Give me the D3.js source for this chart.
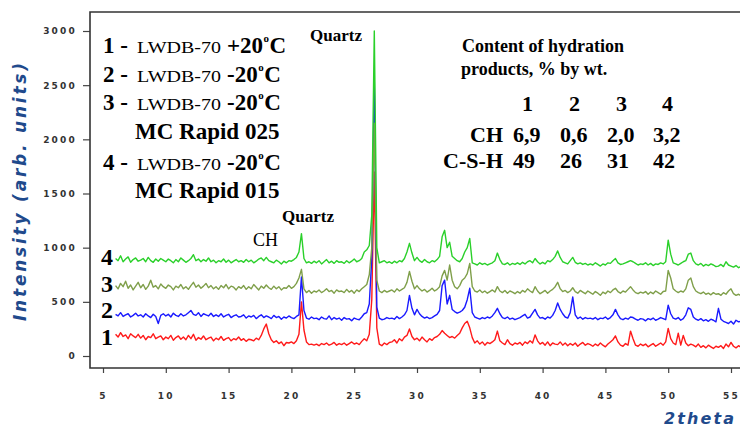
<!DOCTYPE html>
<html>
<head>
<meta charset="utf-8">
<script src="https://cdn.jsdelivr.net/npm/d3@7.9.0/dist/d3.min.js"></script>
<style>
  body { margin: 0; background: #fff; }
  svg text { font-family: "Liberation Serif", serif; }
</style>
</head>
<body>
<svg id="chart" width="740" height="427"></svg>
<script>
// sampling of the patterns: 2theta from 6 deg in 0.2 deg steps
const thetaStart = 6;
const thetaStep = 0.2;

const xTicks = [5, 10, 15, 20, 25, 30, 35, 40, 45, 50, 55];
const yTicks = [0, 500, 1000, 1500, 2000, 2500, 3000];

// 1 - LWDB-70 +20C
const pattern1 = [
  200,175,215,180,195,160,205,185,170,200,
  165,190,150,180,170,205,160,175,185,150,
  175,160,190,145,170,185,155,175,150,190,
  160,200,145,170,155,185,150,165,175,140,
  165,150,180,145,160,170,140,160,150,175,
  145,160,135,155,150,140,165,150,190,250,
  295,205,150,125,140,115,130,95,125,120,
  130,115,140,200,500,240,130,105,110,100,
  110,95,115,105,120,100,110,125,100,115,
  105,120,100,115,130,110,120,105,135,160,
  140,200,520,1700,260,110,95,120,105,125,
  130,150,120,160,140,175,190,250,180,150,
  165,140,175,150,130,160,145,170,180,200,
  235,210,190,170,180,165,190,210,260,300,
  320,260,170,120,140,110,130,100,125,115,
  130,150,230,140,120,105,150,115,100,120,
  110,125,100,130,115,140,120,195,140,110,
  125,100,130,95,120,110,105,130,100,120,
  95,115,100,120,90,110,125,100,115,105,
  90,110,95,120,100,85,110,130,150,185,
  130,100,90,115,100,230,160,100,90,110,
  95,110,85,100,115,90,105,120,100,130,
  255,160,120,105,210,100,190,120,95,110,
  100,85,110,80,95,75,100,85,70,90,
  80,95,70,110,85,125,90,75,95,80,
  85
];

// 2 - LWDB-70 -20C
const pattern2 = [
  385,370,400,365,380,390,360,375,395,370,
  380,360,390,370,355,385,365,300,375,390,
  370,385,360,395,375,365,390,370,380,400,
  420,385,375,400,365,390,380,370,395,365,
  380,365,390,360,375,385,355,370,380,360,
  365,380,350,370,360,375,345,365,380,355,
  370,360,345,375,355,365,340,360,350,370,
  355,345,365,380,730,420,350,340,360,345,
  350,335,360,345,340,370,335,355,340,350,
  330,355,340,345,325,350,340,335,360,390,
  400,480,900,2550,450,350,335,340,355,345,
  350,340,365,345,360,380,420,560,440,380,
  430,390,365,350,360,345,355,370,385,420,
  650,700,480,560,430,410,395,405,420,450,
  520,625,400,360,350,340,355,345,360,350,
  370,400,440,390,355,345,360,340,350,335,
  345,355,370,385,350,360,395,430,380,350,
  355,340,360,350,375,420,490,430,390,360,
  350,400,545,380,345,360,340,355,345,350,
  340,355,335,350,345,360,340,355,380,430,
  380,345,335,350,340,360,355,340,330,345,
  340,325,345,335,350,330,340,355,345,335,
  470,390,350,340,355,330,345,380,445,430,
  360,340,330,345,325,335,320,340,330,315,
  440,340,320,310,300,320,295,330,315,320,
  315
];

// 3 - LWDB-70 -20C MC Rapid 025
const pattern3 = [
  650,620,670,640,690,625,655,610,645,680,
  630,660,615,645,700,635,650,620,665,640,
  625,655,640,610,645,630,660,620,640,615,
  650,680,635,655,625,645,670,630,650,620,
  640,615,650,630,660,620,645,635,610,640,
  625,650,615,640,620,660,635,610,645,625,
  655,630,615,645,620,640,610,630,625,650,
  625,640,670,720,800,620,585,605,580,600,
  590,610,585,600,620,595,605,580,610,595,
  600,585,615,590,605,580,610,595,620,640,
  660,750,1000,2150,700,600,585,605,590,600,
  610,590,620,600,615,630,680,780,690,620,
  650,620,600,615,590,605,625,600,615,640,
  740,790,700,840,700,640,620,650,700,720,
  760,855,640,600,590,610,585,600,580,595,
  610,590,640,600,585,605,580,600,590,575,
  595,580,605,590,620,600,585,640,600,575,
  590,605,580,600,615,640,680,620,595,605,
  585,600,630,595,580,605,590,575,600,585,
  570,595,580,560,590,575,600,585,610,625,
  595,580,600,590,615,640,610,585,575,590,
  580,595,570,590,575,600,585,570,595,600,
  790,720,620,600,585,600,590,620,700,720,
  640,600,585,575,590,570,580,565,585,570,
  575,560,585,570,600,620,575,560,570,555,
  560
];

// 4 - LWDB-70 -20C MC Rapid 015
const pattern4 = [
  900,880,925,870,895,915,865,890,905,875,
  885,900,870,910,880,865,895,875,900,885,
  870,895,880,860,890,870,905,885,865,880,
  900,935,880,895,870,890,875,905,870,885,
  860,880,870,895,865,885,860,875,890,870,
  880,865,890,870,885,860,875,895,905,880,
  910,880,870,860,885,870,850,875,860,880,
  875,890,910,960,1130,900,860,870,855,875,
  860,880,850,870,890,860,875,855,880,865,
  870,855,880,860,875,895,870,880,900,960,
  980,1020,1300,3000,1000,860,870,880,860,870,
  855,875,860,880,870,900,960,1040,950,880,
  910,880,865,890,870,860,880,870,890,920,
  1100,1160,1000,1050,920,900,880,870,900,960,
  1000,1085,860,850,840,860,845,855,840,850,
  860,880,950,890,850,845,860,840,855,845,
  860,845,865,850,870,880,860,900,870,850,
  865,850,880,870,890,920,970,910,870,860,
  850,880,910,865,850,860,845,855,840,850,
  840,860,845,830,850,840,860,855,880,900,
  860,845,850,860,870,880,870,855,840,850,
  845,860,840,855,835,850,845,860,850,870,
  1070,940,860,850,840,855,870,880,940,950,
  880,850,840,855,830,845,835,850,840,825,
  830,845,825,870,840,830,820,835,815,825,
  820
];

const patterns = [pattern1, pattern2, pattern3, pattern4];
const patternColors = ['#ff1a1a', '#1a1aff', '#7f9f4a', '#2ad02a'];
const patternNumbers = ['1', '2', '3', '4'];

const legendNumbers = ['1 -', '2 -', '3 -', '4 -'];
const legendTemps = ['+20', '-20', '-20', '-20'];
const legendExtra = ['', '', 'MC Rapid 025', 'MC Rapid 015'];

const tableCols = ['1', '2', '3', '4'];
const tableCH = ['6,9', '0,6', '2,0', '3,2'];
const tableCSH = ['49', '26', '31', '42'];

const svg = d3.select('#chart');
const frame = { left: 90, top: 12, right: 740, bottom: 368 };

const x = d3.scaleLinear().domain([5, 55]).range([103, 731]);
const y = d3.scaleLinear().domain([0, 3000]).range([356, 31]);

svg.append('clipPath').attr('id', 'plotClip')
  .append('rect')
  .attr('x', frame.left).attr('y', frame.top)
  .attr('width', frame.right - frame.left).attr('height', frame.bottom - frame.top);

// axes
const xAxis = svg.append('g')
  .attr('transform', `translate(0,${frame.bottom})`)
  .call(d3.axisBottom(x).tickValues(xTicks).tickFormat(d3.format('d')).tickSize(5).tickPadding(20));
const yAxis = svg.append('g')
  .attr('transform', `translate(${frame.left},0)`)
  .call(d3.axisLeft(y).tickValues(yTicks).tickFormat(d3.format('d')).tickSize(7).tickPadding(6));
[xAxis, yAxis].forEach(g => {
  g.select('.domain').remove();
  g.selectAll('line').attr('stroke', '#444').attr('stroke-width', 1.2);
  g.selectAll('text')
    .style('font-family', '"DejaVu Sans", sans-serif')
    .style('font-weight', 'bold')
    .style('font-size', '9px')
    .style('letter-spacing', '2.2px')
    .attr('fill', '#333');
});

// frame
svg.append('path')
  .attr('d', `M${frame.right},${frame.top}H${frame.left}V${frame.bottom}H${frame.right}`)
  .attr('fill', 'none').attr('stroke', '#333').attr('stroke-width', 1.6);

// patterns
const line = d3.line()
  .x((d, i) => x(thetaStart + thetaStep * i))
  .y(d => y(d));

const plot = svg.append('g').attr('clip-path', 'url(#plotClip)');
patterns.forEach((p, k) => {
  plot.append('path')
    .datum(p)
    .attr('d', line)
    .attr('fill', 'none')
    .attr('stroke', patternColors[k])
    .attr('stroke-width', 1.4)
    .attr('stroke-linejoin', 'round');
});

// curve numbers at the left
const numberY = [345, 318, 292, 265];
patternNumbers.forEach((n, k) => {
  svg.append('text')
    .attr('x', 101).attr('y', numberY[k])
    .attr('font-size', 24).attr('font-weight', 'bold')
    .text(n);
});

// axis titles
svg.append('text')
  .attr('transform', 'translate(26,192) rotate(-90)')
  .attr('text-anchor', 'middle')
  .style('font-family', '"DejaVu Sans", sans-serif')
  .attr('font-weight', 'bold').attr('font-style', 'italic')
  .attr('font-size', 17).attr('fill', '#1f4a8c')
  .attr('textLength', 258).attr('lengthAdjust', 'spacing')
  .text('Intensity (arb. units)');
svg.append('text')
  .attr('x', 664).attr('y', 424)
  .style('font-family', '"DejaVu Sans", sans-serif')
  .attr('font-weight', 'bold').attr('font-style', 'italic')
  .attr('font-size', 16).attr('fill', '#1f4a8c')
  .attr('textLength', 70).attr('lengthAdjust', 'spacing')
  .text('2theta');

// peak labels
svg.append('text').attr('x', 310).attr('y', 41)
  .attr('font-size', 17).attr('font-weight', 'bold').text('Quartz');
svg.append('text').attr('x', 282).attr('y', 222)
  .attr('font-size', 17).attr('font-weight', 'bold').text('Quartz');
svg.append('text').attr('x', 253).attr('y', 246)
  .attr('font-size', 18).text('CH');

// legend of samples
const legendRowY = [53, 82, 110, 170];
const legendExtraY = [0, 0, 139, 198];
legendNumbers.forEach((num, k) => {
  const g = svg.append('g').attr('transform', `translate(0,${legendRowY[k]})`);
  g.append('text').attr('x', 103).attr('y', 0)
    .attr('font-size', 23).attr('font-weight', 'bold').text(num);
  g.append('text').attr('x', 137).attr('y', 0)
    .attr('font-size', 16)
    .attr('textLength', 84).attr('lengthAdjust', 'spacingAndGlyphs')
    .text('LWDB-70');
  const temp = g.append('text').attr('x', 227).attr('y', 0)
    .attr('font-size', 23).attr('font-weight', 'bold').text(legendTemps[k]);
  const tEnd = 227 + temp.node().getComputedTextLength();
  const deg = g.append('text').attr('x', tEnd + 0.5).attr('y', -11)
    .attr('font-size', 11).attr('font-weight', 'bold').text('o');
  const dEnd = tEnd + 0.5 + deg.node().getComputedTextLength();
  g.append('text').attr('x', dEnd + 0.5).attr('y', 0)
    .attr('font-size', 23).attr('font-weight', 'bold').text('C');
  if (legendExtra[k]) {
    svg.append('text')
      .attr('x', 135).attr('y', legendExtraY[k])
      .attr('font-size', 23).attr('font-weight', 'bold').text(legendExtra[k]);
  }
});

// table of hydration products
svg.append('text').attr('x', 462).attr('y', 52)
  .attr('font-size', 18).attr('font-weight', 'bold').text('Content of hydration');
svg.append('text').attr('x', 461).attr('y', 75)
  .attr('font-size', 18).attr('font-weight', 'bold').text('products, % by wt.');
const colX = [513, 560, 607, 653];
const tableRows = [
  { label: '', values: tableCols, y: 111, dx: 9 },
  { label: 'CH', values: tableCH, y: 142, dx: 0 },
  { label: 'C-S-H', values: tableCSH, y: 168, dx: 0 }
];
tableRows.forEach(r => {
  if (r.label) {
    svg.append('text').attr('x', 503).attr('y', r.y)
      .attr('text-anchor', 'end')
      .attr('font-size', 22).attr('font-weight', 'bold').text(r.label);
  }
  r.values.forEach((v, i) => {
    svg.append('text').attr('x', colX[i] + r.dx).attr('y', r.y)
      .attr('font-size', 22).attr('font-weight', 'bold').text(v);
  });
});
</script>
</body>
</html>
